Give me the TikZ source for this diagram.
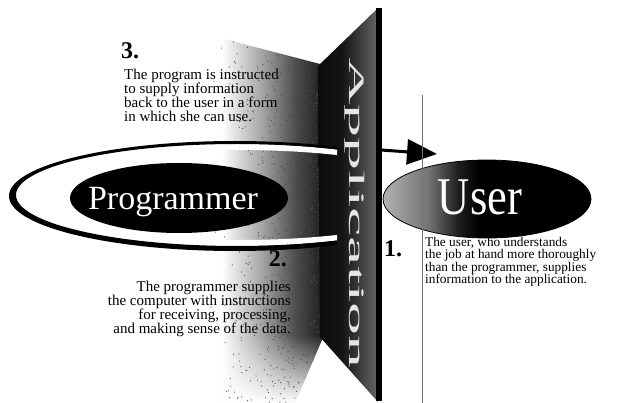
\documentclass[tikz,border=0pt]{standalone}
\usepackage{fontspec}
\setmainfont{Liberation Serif}
\usetikzlibrary{arrows.meta,shapes.geometric,fadings}
\pgfdeclarehorizontalshading{beamshade}{100bp}{color(0bp)=(white); color(37bp)=(white); color(52bp)=(black!35); color(65bp)=(black!70); color(75bp)=(black!88); color(100bp)=(black!88)}
\pgfdeclarehorizontalshading{panelshade}{100bp}{color(0bp)=(black); color(45bp)=(black!92); color(75bp)=(black!60); color(100bp)=(black!60)}
\pgfdeclarehorizontalshading{usershade}{100bp}{color(0bp)=(black!30); color(25bp)=(black!30); color(36bp)=(black!55); color(43bp)=(black!88); color(48bp)=(black); color(100bp)=(black)}
\tikzset{
  bodytext/.style={inner sep=0pt, font=\fontsize{15}{14}\selectfont},
  smalltext/.style={inner sep=0pt, font=\fontsize{13.3}{12.5}\selectfont},
  numtext/.style={inner sep=0pt, font=\bfseries\fontsize{24}{24}\selectfont},
}
\begin{document}
\begin{tikzpicture}[x=1pt,y=-1pt]
\useasboundingbox (0,0) rectangle (638,403);
\fill[white] (0,0) rectangle (638,403);
% light beams
\shade[shading=beamshade] (190,30) -- (320,64) -- (322,340) -- (295,403) -- (190,403) -- cycle;
\fill[white, path fading=north] (190,335) rectangle (325,403);
\begin{scope}
  \clip (190,30) -- (320,64) -- (322,340) -- (295,403) -- (190,403) -- cycle;
  \pgfmathsetseed{42}
  \foreach \i in {1,...,3000}{
    \pgfmathsetmacro{\u}{rnd}
    \pgfmathsetmacro{\px}{195+130*\u}
    \pgfmathsetmacro{\py}{30+373*rnd}
    \pgfmathsetmacro{\keep}{(rnd<\u*\u*0.9) ? 1 : 0}
    \ifdim\keep pt>0.5pt \fill[black!70] (\px,\py) circle (0.6); \fi
  }
\end{scope}
% application panel
\shade[shading=panelshade] (378,8) -- (318,66) -- (320,337) -- (378,402) -- cycle;
\node[rotate=-90, text=black!10, inner sep=0pt] (apptext) at (355,213)
  {\scalebox{3.0}[1]{\fontsize{22}{22}\selectfont Application}};
% outer ring
\begin{scope}
  \clip (0,0) rectangle (337,403);
  \fill[white,even odd rule] (237,195) ellipse [x radius=221,y radius=51]
                             (239,195) ellipse [x radius=213,y radius=45];
  \fill[black,even odd rule] (235,196) ellipse [x radius=226,y radius=55]
                             (237,195) ellipse [x radius=221,y radius=51];
\end{scope}
% programmer
\node[ellipse, fill=black, minimum width=218pt, minimum height=70pt, inner sep=0pt] (prog) at (179,198) {};
\node[anchor=base, text=white, inner sep=0pt, font=\fontsize{34}{34}\selectfont] (progtext) at (173,210) {Programmer};
% bar
\fill[black] (376,8) rectangle (382,401);
\coordinate (arrowstart) at (381,150);
\coordinate (arrowtip) at (437,154);
% user
\node[ellipse, draw=black, line width=0.8pt, shading=usershade, minimum width=208pt, minimum height=78pt, inner sep=0pt] (user) at (487,199) {};
\node[anchor=base, text=white, inner sep=0pt] (usertext) at (480,215)
  {\scalebox{0.84}[1]{\fontsize{53}{53}\selectfont User}};
% arrow
\draw[line width=3pt, -{Triangle[length=30pt,width=25pt]}] (arrowstart) -- (arrowtip);
% thin vertical line
\draw[black!55, line width=0.7pt] (422,95) -- (422,403);
% texts (base anchor = baseline of last line)
\node[numtext, anchor=base west] (n3) at (121,59) {3.};
\node[bodytext, anchor=base west, align=left] (t3) at (124,122)
  {The program is instructed\\to supply information\\back to the user in a form\\in which she can use.};
\node[numtext, anchor=base east] (n2) at (287,267) {2.};
\node[bodytext, anchor=base east, align=right] (t2) at (291,334)
  {The programmer supplies\\the computer with instructions\\for receiving, processing,\\and making sense of the data.};
\node[numtext, anchor=base west] (n1) at (384,257) {1.};
\node[smalltext, anchor=base west, align=left] (t1) at (425,284)
  {The user, who understands\\the job at hand more thoroughly\\than the programmer, supplies\\information to the application.};
\end{tikzpicture}
\end{document}
